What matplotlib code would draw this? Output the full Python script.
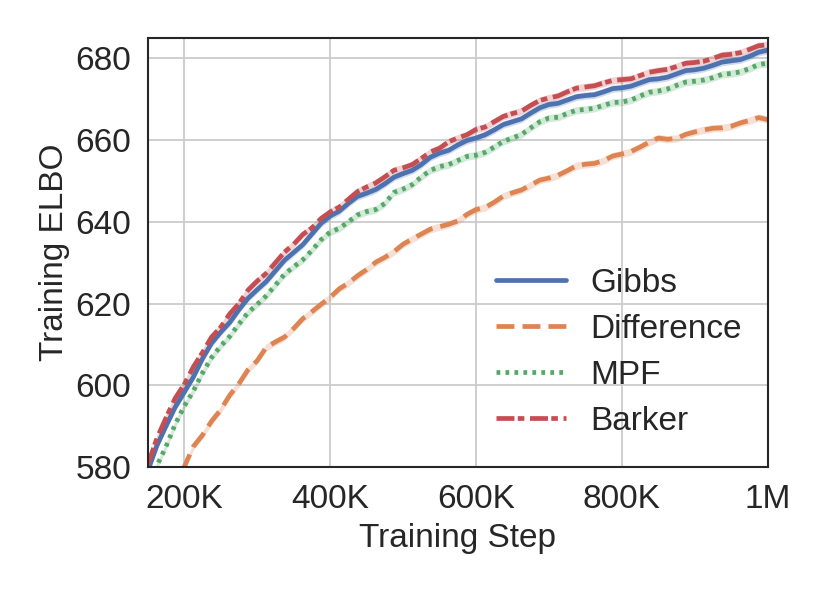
import numpy as np
import matplotlib
matplotlib.use("Agg")
import matplotlib.pyplot as plt
import seaborn as sns

sns.set_theme(style="whitegrid", palette="deep")
plt.rcParams['font.family'] = ['Liberation Sans', 'DejaVu Sans']

# training steps in thousands, every 12.5K from 150K to 1M
steps = np.arange(150, 1000.1, 12.5)

gibbs = [579.0, 585.2, 590.0, 594.6, 598.3, 602.0, 606.5, 610.3, 613.0, 615.4,
         618.5, 621.3, 623.4, 625.4, 628.0, 630.6, 632.5, 634.4, 637.0, 639.6,
         641.4, 642.6, 644.5, 646.2, 647.0, 647.9, 649.3, 650.9, 651.8, 652.6,
         654.0, 655.8, 656.8, 657.5, 658.8, 659.9, 660.5, 661.3, 662.5, 663.8,
         664.5, 665.2, 666.6, 667.9, 668.7, 669.0, 669.8, 670.6, 670.9, 671.1,
         671.8, 672.6, 672.8, 673.2, 674.0, 674.8, 675.0, 675.4, 676.2, 677.0,
         677.2, 677.6, 678.3, 679.1, 679.4, 679.7, 680.5, 681.5, 682.0]
difference = [562.0, 566.8, 571.0, 575.9, 580.0, 585.0, 587.8, 591.2, 594.0,
              597.6, 600.4, 603.8, 606.0, 609.3, 610.6, 611.8, 613.9, 616.3,
              618.0, 619.8, 621.5, 623.6, 625.0, 626.8, 628.3, 630.1, 631.3,
              632.7, 634.5, 635.8, 637.0, 638.2, 638.8, 639.4, 640.2, 641.8,
              643.0, 643.5, 644.8, 646.3, 647.1, 647.8, 649.0, 650.2, 650.7,
              651.4, 652.5, 653.7, 654.1, 654.3, 655.0, 656.1, 656.6, 657.2,
              658.3, 659.5, 660.5, 660.2, 660.4, 661.4, 662.0, 662.5, 662.9,
              663.0, 663.4, 664.2, 664.8, 665.5, 665.0]
mpf = [575.0, 580.3, 585.0, 590.4, 594.9, 598.6, 603.0, 606.8, 609.6, 612.0,
       615.0, 617.8, 619.8, 621.9, 624.5, 627.2, 629.0, 630.7, 633.0, 635.6,
       637.5, 638.4, 640.0, 641.7, 642.5, 643.0, 644.5, 647.2, 648.0, 649.1,
       651.0, 652.6, 653.5, 654.0, 655.0, 656.0, 656.3, 657.0, 658.3, 659.7,
       660.5, 661.4, 663.0, 664.5, 665.4, 665.6, 666.5, 667.3, 667.5, 667.8,
       668.5, 669.2, 669.3, 669.8, 670.8, 671.7, 672.0, 672.5, 673.4, 674.2,
       674.4, 674.7, 675.3, 676.1, 676.3, 676.7, 677.5, 678.5, 678.8]
barker = [580.5, 587.0, 592.0, 596.8, 600.2, 604.5, 608.0, 611.8, 614.2, 617.5,
          620.0, 623.3, 625.5, 627.4, 630.0, 632.6, 634.5, 636.9, 638.5, 640.8,
          642.4, 643.6, 645.5, 647.4, 648.5, 649.5, 651.0, 652.6, 653.2, 654.0,
          655.5, 657.1, 658.0, 659.6, 660.5, 661.3, 662.6, 663.2, 664.5, 665.8,
          666.5, 667.1, 668.5, 669.7, 670.3, 670.8, 671.8, 672.7, 673.0, 673.3,
          674.0, 674.6, 674.8, 675.0, 675.8, 676.6, 677.0, 677.3, 678.0, 678.8,
          679.0, 679.3, 680.0, 680.8, 681.0, 681.4, 682.2, 683.1, 683.3]
band = 0.9  # rough half width of the shaded spread

series = [("Gibbs", gibbs, "-"),
          ("Difference", difference, (0, (3.8, 1.7))),
          ("MPF", mpf, (0, (0.8, 1.1))),
          ("Barker", barker, (0, (3.8, 0.7, 1.4, 1.2)))]
colors = sns.color_palette("deep")

fig = plt.figure(figsize=(8.3, 5.93), dpi=100)
ax = fig.add_axes([0.178, 0.2125, 0.747, 0.7235])

x = steps * 1000
for i, (name, vals, ls) in enumerate(series):
    y = np.array(vals)
    ax.fill_between(x, y - band, y + band, color=colors[i], alpha=0.25, lw=0)
    ax.plot(x, y, color=colors[i], ls=ls, lw=3.4, label=name)

ax.set_xlim(150000, 1000000)
ax.set_ylim(580, 685)
ax.set_xticks([200000, 400000, 600000, 800000, 1000000])
ax.set_xticklabels(["200K", "400K", "600K", "800K", "1M"])
ax.set_yticks([580, 600, 620, 640, 660, 680])
ax.tick_params(labelsize=24, colors="#262626", pad=6)
ax.set_xlabel("Training Step", fontsize=24, color="#262626", labelpad=6)
ax.set_ylabel("Training ELBO", fontsize=24, color="#262626", labelpad=4)
ax.grid(color="#cccccc", lw=1.3)
for s in ax.spines.values():
    s.set_color("#262626")
    s.set_linewidth(1.5)

ax.legend(loc="lower right", fontsize=24, frameon=False, handlelength=2.1,
          handletextpad=0.75, labelspacing=0.45, bbox_to_anchor=(1.007, 0.0))

fig.savefig("out.png", dpi=100)
